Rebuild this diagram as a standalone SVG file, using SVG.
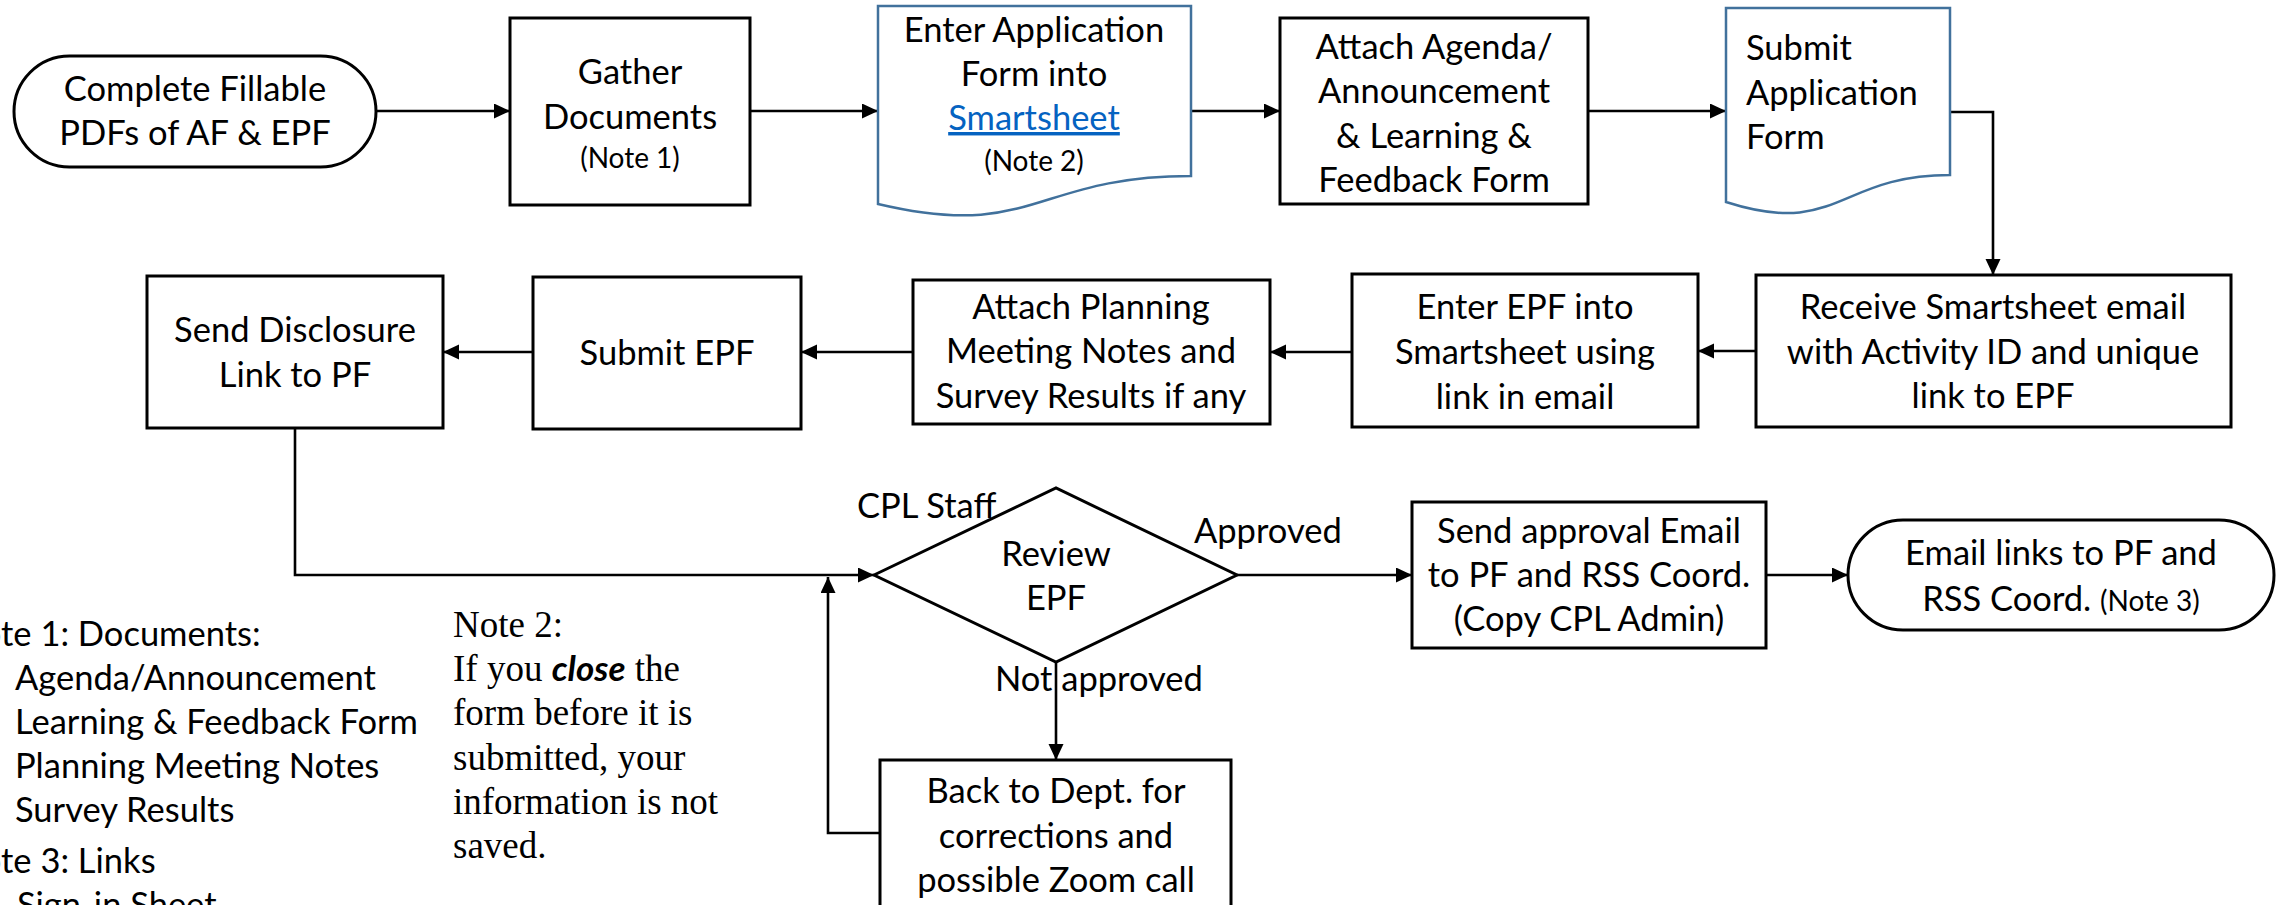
<svg xmlns="http://www.w3.org/2000/svg" width="2277" height="905" viewBox="0 0 2277 905">
<style>
.bg{fill:#ffffff}
.box{fill:#ffffff;stroke:#000000;stroke-width:3}
.doc{fill:#ffffff;stroke:#41719C;stroke-width:2.5}
.conn{fill:none;stroke:#000000;stroke-width:2.6}
.t{font-family:Lato,"Liberation Sans",sans-serif;font-size:34.5px;fill:#000000;text-anchor:middle}
.l{font-family:Lato,"Liberation Sans",sans-serif;font-size:34.5px;fill:#000000}
.s{font-size:28px}
.link{fill:#0563C1;text-decoration:underline}
.tm{font-family:"Liberation Serif","Times New Roman",serif;font-size:37px;fill:#000000}
.em{font-family:Lato,"Liberation Sans",sans-serif;font-weight:bold;font-style:italic;font-size:35px}
</style>
<defs>
<marker id="arr" markerUnits="userSpaceOnUse" markerWidth="18" markerHeight="16" refX="16" refY="7.5" orient="auto">
<path d="M0,0 L16,7.5 L0,15 Z" fill="#000000"/>
</marker>
</defs>
<rect class="bg" x="0" y="0" width="2277" height="905"/>
<g id="connectors">
<path class="conn" d="M376,111 H510" marker-end="url(#arr)"/>
<path class="conn" d="M750,111 H878" marker-end="url(#arr)"/>
<path class="conn" d="M1191,111 H1280" marker-end="url(#arr)"/>
<path class="conn" d="M1588,111 H1726" marker-end="url(#arr)"/>
<path class="conn" d="M1950,112 H1993 V275" marker-end="url(#arr)"/>
<path class="conn" d="M1756,351 H1698" marker-end="url(#arr)"/>
<path class="conn" d="M1352,352 H1270" marker-end="url(#arr)"/>
<path class="conn" d="M913,352 H801" marker-end="url(#arr)"/>
<path class="conn" d="M533,352 H443" marker-end="url(#arr)"/>
<path class="conn" d="M295,428 V575 H874" marker-end="url(#arr)"/>
<path class="conn" d="M1237,575 H1412" marker-end="url(#arr)"/>
<path class="conn" d="M1766,575 H1848" marker-end="url(#arr)"/>
<path class="conn" d="M1056,662 V760" marker-end="url(#arr)"/>
<path class="conn" d="M880,833 H828 V577" marker-end="url(#arr)"/>
</g>
<g id="n-complete">
<rect class="box" x="14" y="56" width="362" height="111" rx="55.5" ry="55.5"/>
<text class="t" x="195" y="101">Complete Fillable</text>
<text class="t" x="195" y="145">PDFs of AF &amp; EPF</text>
</g>
<g id="n-gather">
<rect class="box" x="510" y="18" width="240" height="187"/>
<text class="t" x="630" y="84">Gather</text>
<text class="t" x="630" y="129">Documents</text>
<text class="t s" x="630" y="168">(Note 1)</text>
</g>
<g id="n-enterapp">
<path class="doc" d="M878,6 H1191 V176 C1034.5,176 1034.5,241 878,204 Z"/>
<text class="t" x="1034" y="42">Enter Application</text>
<text class="t" x="1034" y="86">Form into</text>
<text class="t link" x="1034" y="130">Smartsheet</text>
<text class="t s" x="1034" y="171">(Note 2)</text>
</g>
<g id="n-attach">
<rect class="box" x="1280" y="18" width="308" height="186"/>
<text class="t" x="1434" y="59">Attach Agenda/</text>
<text class="t" x="1434" y="103">Announcement</text>
<text class="t" x="1434" y="148">&amp; Learning &amp;</text>
<text class="t" x="1434" y="192">Feedback Form</text>
</g>
<g id="n-submitapp">
<path class="doc" d="M1726,8 H1950 V175 C1838,175 1838,238 1726,202 Z"/>
<text class="l" x="1746" y="60">Submit</text>
<text class="l" x="1746" y="105">Application</text>
<text class="l" x="1746" y="149">Form</text>
</g>
<g id="n-receive">
<rect class="box" x="1756" y="275" width="475" height="152"/>
<text class="t" x="1993" y="319">Receive Smartsheet email</text>
<text class="t" x="1993" y="364">with Activity ID and unique</text>
<text class="t" x="1993" y="408">link to EPF</text>
</g>
<g id="n-enterepf">
<rect class="box" x="1352" y="274" width="346" height="153"/>
<text class="t" x="1525" y="319">Enter EPF into</text>
<text class="t" x="1525" y="364">Smartsheet using</text>
<text class="t" x="1525" y="409">link in email</text>
</g>
<g id="n-attachplan">
<rect class="box" x="913" y="280" width="357" height="144"/>
<text class="t" x="1091" y="319">Attach Planning</text>
<text class="t" x="1091" y="363">Meeting Notes and</text>
<text class="t" x="1091" y="408">Survey Results if any</text>
</g>
<g id="n-submitepf">
<rect class="box" x="533" y="277" width="268" height="152"/>
<text class="t" x="667" y="365">Submit EPF</text>
</g>
<g id="n-disclosure">
<rect class="box" x="147" y="276" width="296" height="152"/>
<text class="t" x="295" y="342">Send Disclosure</text>
<text class="t" x="295" y="387">Link to PF</text>
</g>
<g id="n-review">
<polygon class="box" points="874,575 1056,488 1237,575 1056,662"/>
<text class="t" x="1056" y="566">Review</text>
<text class="t" x="1056" y="610">EPF</text>
</g>
<g id="n-approval">
<rect class="box" x="1412" y="502" width="354" height="146"/>
<text class="t" x="1589" y="543">Send approval Email</text>
<text class="t" x="1589" y="587">to PF and RSS Coord.</text>
<text class="t" x="1589" y="631">(Copy CPL Admin)</text>
</g>
<g id="n-emaillinks">
<rect class="box" x="1848" y="520" width="426" height="110" rx="55" ry="55"/>
<text class="t" x="2061" y="565">Email links to PF and</text>
<text class="t" x="2061" y="611">RSS Coord. <tspan class="s">(Note 3)</tspan></text>
</g>
<g id="n-back">
<rect class="box" x="880" y="760" width="351" height="170"/>
<text class="t" x="1056" y="803">Back to Dept. for</text>
<text class="t" x="1056" y="848">corrections and</text>
<text class="t" x="1056" y="892">possible Zoom call</text>
</g>
<g id="labels">
<text class="l" x="857" y="518">CPL Staff</text>
<text class="l" x="1194" y="543">Approved</text>
<text class="l" x="995" y="691">Not approved</text>
</g>
<g id="note1">
<text class="l" x="-44" y="646">Note 1: Documents:</text>
<text class="l" x="15" y="690">Agenda/Announcement</text>
<text class="l" x="15" y="734">Learning &amp; Feedback Form</text>
<text class="l" x="15" y="778">Planning Meeting Notes</text>
<text class="l" x="15" y="822">Survey Results</text>
<text class="l" x="-44" y="873">Note 3: Links</text>
<text class="l" x="17" y="917">Sign-in Sheet</text>
</g>
<g id="note2">
<text class="tm" x="453" y="637">Note 2:</text>
<text class="tm" x="453" y="681">If you <tspan class="em">close</tspan> the</text>
<text class="tm" x="453" y="725">form before it is</text>
<text class="tm" x="453" y="770">submitted, your</text>
<text class="tm" x="453" y="814">information is not</text>
<text class="tm" x="453" y="858">saved.</text>
</g>
</svg>
